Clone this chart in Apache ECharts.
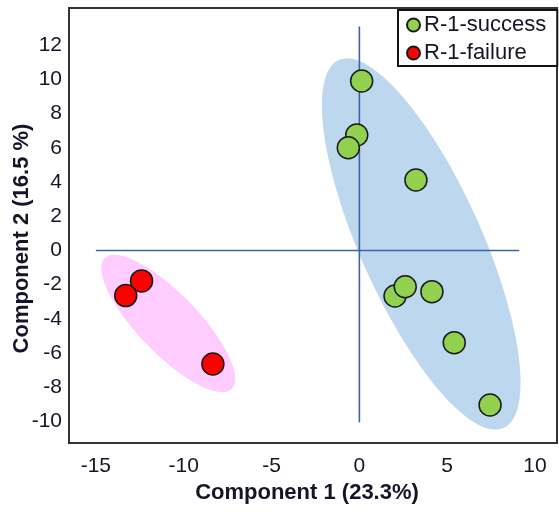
<!DOCTYPE html>
<html>
<head>
<meta charset="utf-8">
<script src="https://cdn.jsdelivr.net/npm/echarts@6/dist/echarts.min.js"></script>
<style>html,body{margin:0;padding:0;background:#fff}#c{width:559px;height:512px}</style>
</head>
<body>
<div id="c"></div>
<script>
// ---- data ----
const seriesNames = ['R-1-success', 'R-1-failure'];
const successPoints = [[0.13, 9.91], [-0.15, 6.75], [-0.63, 6.01], [3.22, 4.12], [2.03, -2.66], [2.61, -2.12], [4.13, -2.41], [5.40, -5.39], [7.44, -9.04]];
const failurePoints = [[-12.40, -1.78], [-13.30, -2.64], [-8.34, -6.64]];
// ellipse: [centerX, centerY, axis1X, axis1Y, axis2X, axis2Y] (data units)
const successEllipse = [3.52, 0.38, 4.69, -10.76, 3.16, 1.46];
const failureEllipse = [-10.88, -4.27, 3.61, -3.83, 1.22, 1.22];
const hAxisLine = [[-15, 0], [9.1, 0]];
const vAxisLine = [[0, -10.05], [0, 13.1]];
const xTicks = [-15, -10, -5, 0, 5, 10];
const yTicks = [-10, -8, -6, -4, -2, 0, 2, 4, 6, 8, 10, 12];
const xRange = [-16.53, 11.25];
const yRange = [-11.26, 14.18];
const xTitle = 'Component 1 (23.3%)';
const yTitle = 'Component 2 (16.5 %)';

const chart = echarts.init(document.getElementById('c'), null, {renderer: 'canvas'});

function ellipseRender(color) {
  return function (params, api) {
    const cx = api.value(0), cy = api.value(1);
    const ux = api.value(2), uy = api.value(3), vx = api.value(4), vy = api.value(5);
    const pts = [];
    for (let i = 0; i < 120; i++) {
      const t = i / 120 * Math.PI * 2;
      pts.push(api.coord([cx + Math.cos(t) * ux + Math.sin(t) * vx, cy + Math.cos(t) * uy + Math.sin(t) * vy]));
    }
    return {type: 'polygon', shape: {points: pts}, style: {fill: color}, silent: true};
  };
}

const fontFam = '"Liberation Sans", Arial, sans-serif';
const txtColor = '#15152a';

chart.setOption({
  animation: false,
  backgroundColor: '#fff',
  grid: {left: 69, right: 2, top: 8, bottom: 69, outerBoundsMode: 'none', containLabel: false,
    show: true, borderColor: '#333', borderWidth: 2, backgroundColor: 'transparent'},
  legend: {
    data: seriesNames,
    orient: 'vertical',
    left: 398, top: 10,
    padding: [4, 11, 2, 8],
    itemGap: 6,
    itemWidth: 13, itemHeight: 13,
    icon: 'circle',
    borderColor: '#111', borderWidth: 2,
    backgroundColor: '#fff',
    textStyle: {fontSize: 22, fontFamily: fontFam, color: txtColor, padding: [0, 0, 0, -1]}
  },
  xAxis: {
    type: 'value', min: xRange[0], max: xRange[1],
    splitLine: {show: false}, axisLine: {show: false}, axisTick: {show: false},
    axisLabel: {customValues: xTicks, fontSize: 21, fontFamily: fontFam, color: txtColor, margin: 13},
    name: xTitle, nameLocation: 'middle', nameGap: 39, nameMoveOverlap: false,
    nameTextStyle: {fontSize: 22, fontWeight: 'bold', fontFamily: fontFam, color: txtColor, padding: [0, 0, 0, -12]}
  },
  yAxis: {
    type: 'value', min: yRange[0], max: yRange[1],
    splitLine: {show: false}, axisLine: {show: false}, axisTick: {show: false},
    axisLabel: {customValues: yTicks, fontSize: 21, fontFamily: fontFam, color: txtColor, margin: 7},
    name: yTitle, nameLocation: 'middle', nameGap: 36, nameMoveOverlap: false,
    nameTextStyle: {fontSize: 22, fontWeight: 'bold', fontFamily: fontFam, color: txtColor, padding: [0, 0, 0, -26]}
  },
  series: [
    {type: 'custom', renderItem: ellipseRender('#BDD7EE'), data: [successEllipse], z: 1, silent: true},
    {type: 'custom', renderItem: ellipseRender('#FFCCFF'), data: [failureEllipse], z: 1, silent: true},
    {type: 'line', data: hAxisLine, symbol: 'none', lineStyle: {color: '#3F63AA', width: 1.6}, z: 2, silent: true},
    {type: 'line', data: vAxisLine, symbol: 'none', lineStyle: {color: '#3F63AA', width: 1.6}, z: 2, silent: true},
    {name: seriesNames[0], type: 'scatter', data: successPoints, symbolSize: 22, z: 3,
      itemStyle: {color: '#92D050', borderColor: '#1a1a1a', borderWidth: 1.5, opacity: 1}},
    {name: seriesNames[1], type: 'scatter', data: failurePoints, symbolSize: 22, z: 3,
      itemStyle: {color: '#FF0000', borderColor: '#1a1a1a', borderWidth: 1.5, opacity: 1}}
  ]
});
</script>
</body>
</html>
